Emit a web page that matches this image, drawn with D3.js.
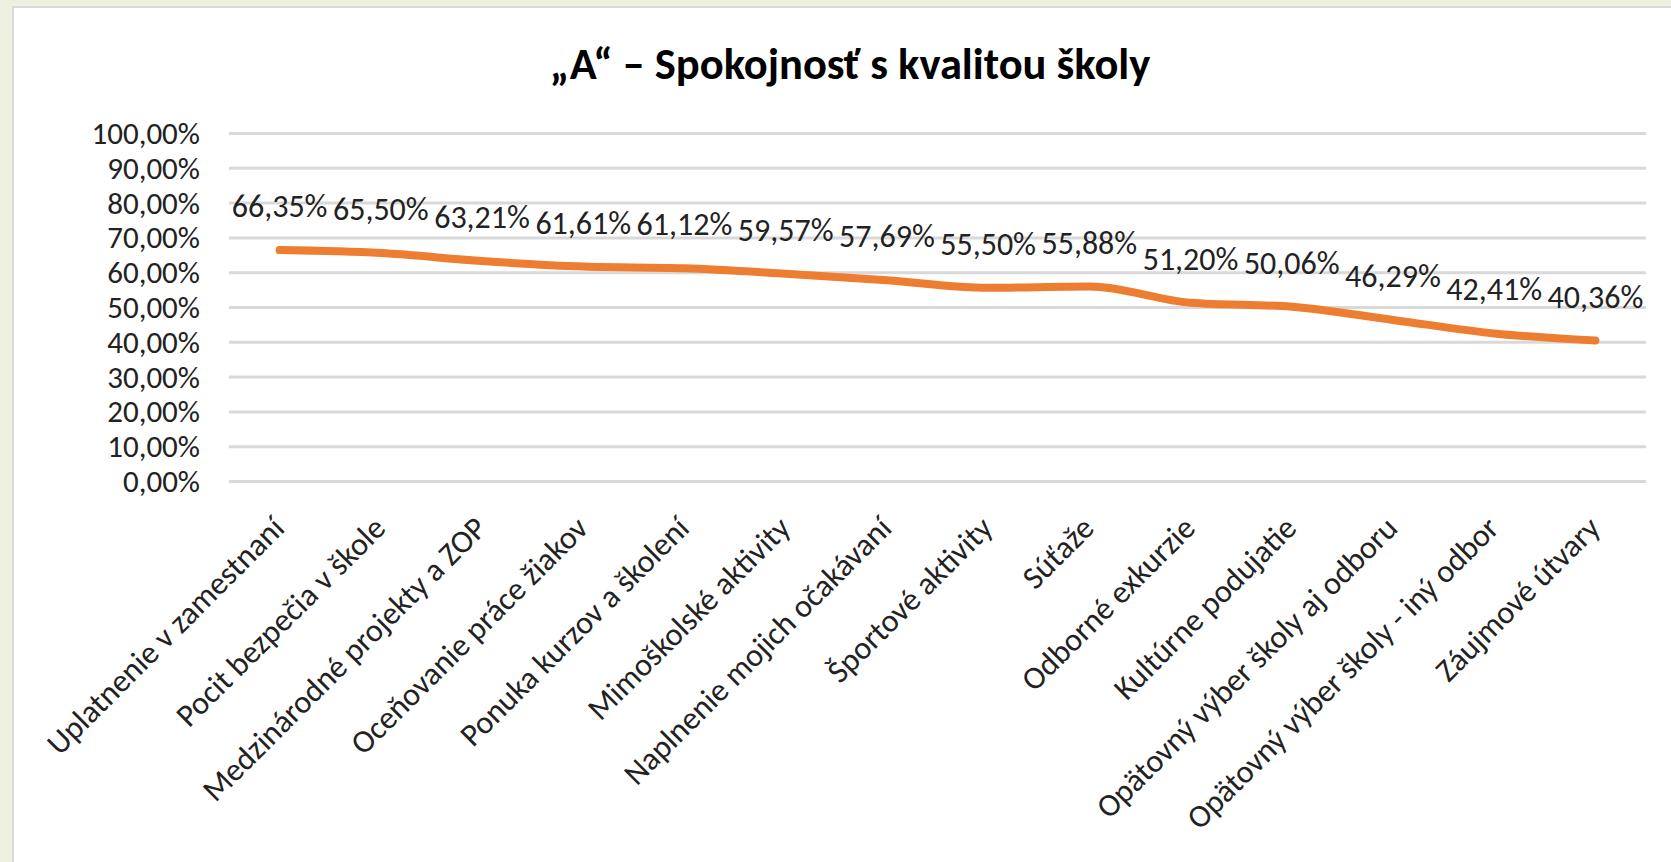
<!DOCTYPE html>
<html><head><meta charset="utf-8">
<script src="https://cdn.jsdelivr.net/npm/d3@7"></script>
<style>
html,body{margin:0;padding:0;background:#eef1df;}
svg{display:block;}
</style></head>
<body>
<svg id="c" width="1671" height="862"></svg>
<script>
const categories = ["Uplatnenie v zamestnaní","Pocit bezpečia v škole","Medzinárodné projekty a ZOP","Oceňovanie práce žiakov","Ponuka kurzov a školení","Mimoškolské aktivity","Naplnenie mojich očakávaní","Športové aktivity","Súťaže","Odborné exkurzie","Kultúrne podujatie","Opätovný výber školy aj odboru","Opätovný výber školy - iný odbor","Záujmové útvary"];
const values = [66.35,65.50,63.21,61.61,61.12,59.57,57.69,55.50,55.88,51.20,50.06,46.29,42.41,40.36];
const yTicks = [0,10,20,30,40,50,60,70,80,90,100];
const title = "„A“ – Spokojnosť s kvalitou školy";

const fmt = v => v.toFixed(2).replace(".", ",") + "%";
const FONT = "Carlito, Calibri, Lato, 'Open Sans', sans-serif";

const svg = d3.select("#c");
// panel
svg.append("rect").attr("x",12).attr("y",6).attr("width",1671).attr("height",862).attr("fill","#d9d9d9");
svg.append("rect").attr("x",14).attr("y",8).attr("width",1671).attr("height",862).attr("fill","#ffffff");

const L = 229, R = 1646, T = 133, B = 481;
const x = d3.scalePoint().domain(categories).range([L,R]).padding(0.5);
const y = d3.scaleLinear().domain([0,100]).range([B,T]);

svg.append("text").attr("x",850).attr("y",79).attr("text-anchor","middle")
  .attr("font-family",FONT).attr("font-weight","bold").attr("font-size",44.5).attr("fill","#000").text(title);

// grid
const ya = d3.axisLeft(y).tickValues(yTicks).tickSize(-(R-L)).tickPadding(28).tickFormat(d=>fmt(d));
const gy = svg.append("g").attr("transform",`translate(${L},0)`).call(ya);
gy.select(".domain").remove();
gy.selectAll(".tick line").attr("stroke","#d9d9d9").attr("stroke-width",3);
gy.selectAll(".tick text").attr("font-family",FONT).attr("font-size",31).attr("fill","#222").attr("x",-29).attr("dy","0.34em");

// x axis labels
const xa = d3.axisBottom(x).tickSize(0).tickPadding(0);
const gx = svg.append("g").attr("transform",`translate(0,${B})`).call(xa);
gx.select(".domain").remove();
gx.selectAll(".tick text").attr("font-family",FONT).attr("font-size",32).attr("fill","#222")
  .attr("text-anchor","end").attr("dy",null).attr("y",0)
  .attr("transform","translate(6,49) rotate(-45)");

// line
const line = d3.line().x((d,i)=>x(categories[i])).y(d=>y(d)).curve(d3.curveMonotoneX);
svg.append("path").datum(values).attr("d",line).attr("fill","none")
  .attr("stroke","#ed7d31").attr("stroke-width",8).attr("stroke-linecap","round").attr("stroke-linejoin","round");

// data labels
svg.append("g").selectAll("text").data(values).join("text")
  .attr("x",(d,i)=>x(categories[i])).attr("y",d=>y(d)-33)
  .attr("text-anchor","middle").attr("font-family",FONT).attr("font-size",32).attr("fill","#222")
  .text(d=>fmt(d));
</script>
</body></html>
